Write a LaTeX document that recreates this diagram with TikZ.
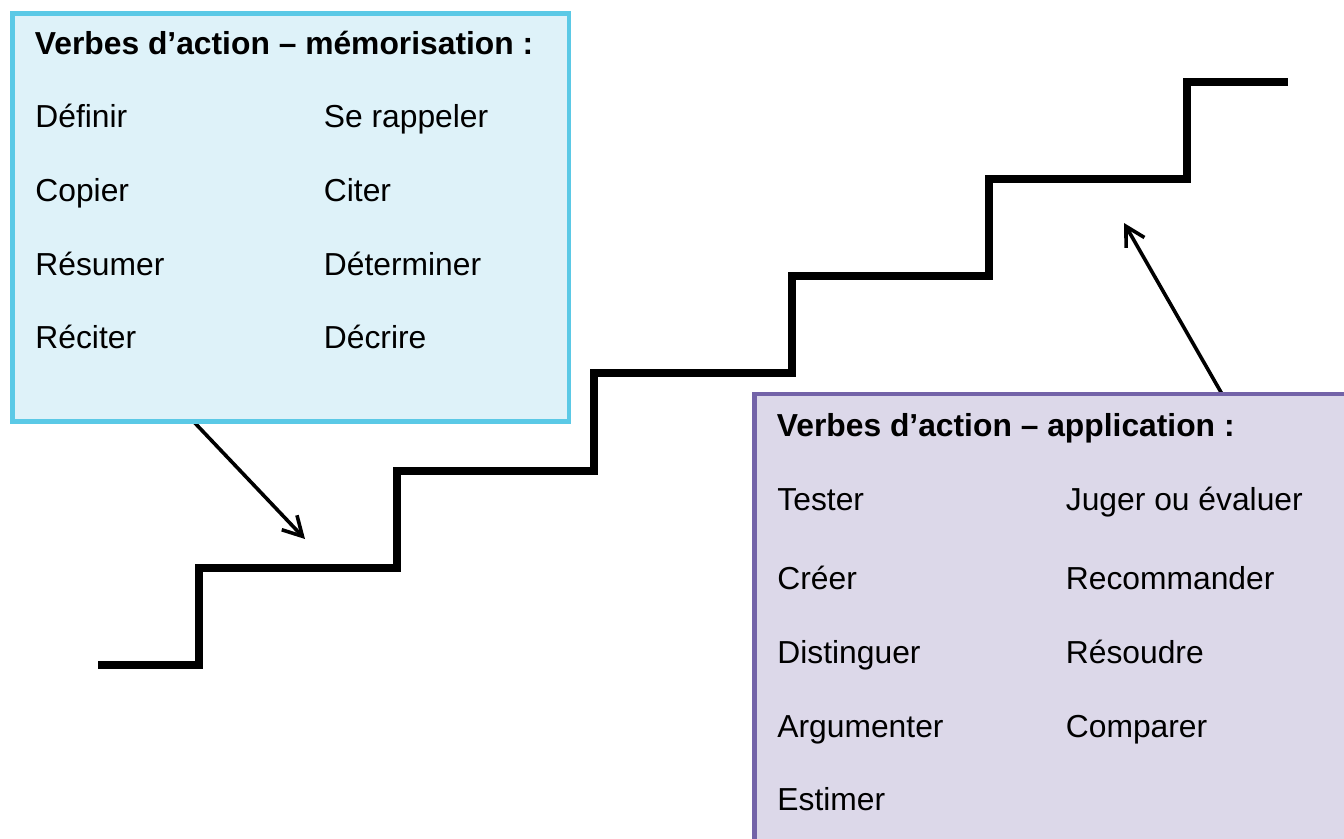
\documentclass[tikz,border=0pt]{standalone}
\usepackage{fontspec}
\setmainfont{Liberation Sans}
\usepackage{xcolor}
\usetikzlibrary{arrows.meta}
\definecolor{bleufond}{HTML}{DEF2F9}
\definecolor{bleubord}{HTML}{5BC9E6}
\definecolor{mauvefond}{HTML}{DCD8E9}
\definecolor{mauvebord}{HTML}{7363A8}
\tikzset{ cadre/.style = {rectangle, anchor=north west, inner sep=0pt, outer sep=0pt, line width=2.2pt} }
\tikzset{ verbe/.style = {anchor=base west, inner sep=0pt, font=\fontsize{15.9}{19}\selectfont} }
\tikzset{ titre/.style = {verbe, font=\fontsize{15.9}{19}\selectfont\bfseries} }
\tikzset{ fleche/.style = {-{Straight Barb[length=9.5pt,width=10.5pt]}, line width=1.8pt} }

\begin{document}
\begin{tikzpicture}[x=0.5pt, y=-0.5pt]
            \clip (0,0) rectangle (1344,839);
            \fill[white] (0,0) rectangle (1344,839);
            % escalier
            \draw[line width=3.8pt, line join=miter] (98,665) -- (199,665) -- (199,568)
                -- (397,568) -- (397,471) -- (594,471) -- (594,373) -- (792,373)
                -- (792,276) -- (989,276) -- (989,179) -- (1187,179) -- (1187,82) -- (1288,82);
            % fleches
            \coordinate (d1) at (193,421);
            \coordinate (p1) at (305,539);
            \coordinate (d2) at (1222,394);
            \coordinate (p2) at (1124,223);
            \draw[fleche] (d1) -- (p1);
            \draw[fleche] (d2) -- (p2);
            % cadres
            \node [cadre, draw=bleubord, fill=bleufond, minimum width=278.25pt, minimum height=204pt] (memo) at (12.5,13.5) {};
            \node [cadre, draw=mauvebord, fill=mauvefond, minimum width=305pt, minimum height=232.5pt] (appli) at (754.5,394) {};
            % memorisation
            \node [titre] (m0) at (34.5,55) {Verbes d’action – mémorisation :};
            \node [verbe] (m1) at (35,128) {Définir};
            \node [verbe] (m2) at (323.5,128) {Se rappeler};
            \node [verbe] (m3) at (35,202) {Copier};
            \node [verbe] (m4) at (323.5,202) {Citer};
            \node [verbe] (m5) at (35,276) {Résumer};
            \node [verbe] (m6) at (323.5,276) {Déterminer};
            \node [verbe] (m7) at (35,349) {Réciter};
            \node [verbe] (m8) at (323.5,349) {Décrire};
            % application
            \node [titre] (a0) at (776.5,437) {Verbes d’action – application :};
            \node [verbe] (a1) at (777,510) {Tester};
            \node [verbe] (a2) at (1065.5,510) {Juger ou évaluer};
            \node [verbe] (a3) at (777,589) {Créer};
            \node [verbe] (a4) at (1065.5,589) {Recommander};
            \node [verbe] (a5) at (777,663) {Distinguer};
            \node [verbe] (a6) at (1065.5,663) {Résoudre};
            \node [verbe] (a7) at (777,737) {Argumenter};
            \node [verbe] (a8) at (1065.5,737) {Comparer};
            \node [verbe] (a9) at (777,810) {Estimer};
        \end{tikzpicture}
\end{document}
